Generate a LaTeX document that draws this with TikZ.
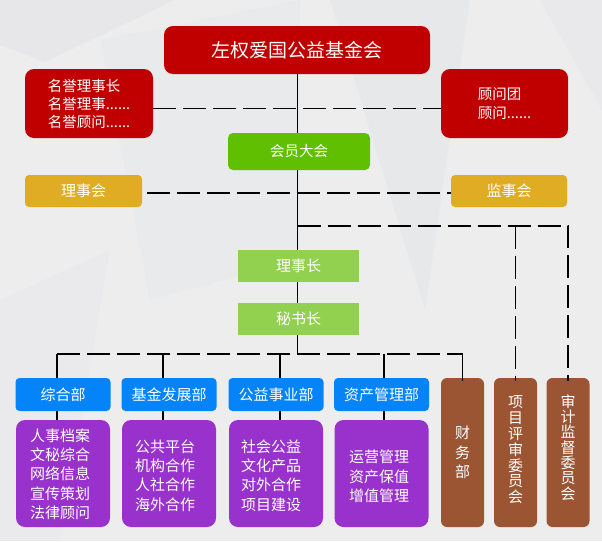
\documentclass[tikz,border=0pt]{standalone}
\usepackage{fontspec}
\setmainfont{Noto Sans CJK SC}
\definecolor{bg}{HTML}{EDEDEE}
\definecolor{bgdark}{HTML}{E3E4E8}
\definecolor{cred}{HTML}{C00000}
\definecolor{cgreen}{HTML}{60C000}
\definecolor{cgold}{HTML}{E0AC24}
\definecolor{clgreen}{HTML}{92D050}
\definecolor{cblue}{HTML}{0584FA}
\definecolor{cpurple}{HTML}{9932CC}
\definecolor{cbrown}{HTML}{9C5532}
\begin{document}
\begin{tikzpicture}[x=1pt,y=-1pt,
  box/.style={draw=none, text=white, inner sep=0pt, align=center},
  txt/.style={text=white, inner sep=0pt, align=center},
  redbox/.style={box, fill=cred, rounded corners=9pt},
  bluebox/.style={box, fill=cblue, rounded corners=4pt, minimum width=95pt, minimum height=33pt, font=\fontsize{15}{18}\selectfont},
  purplebox/.style={box, fill=cpurple, rounded corners=9pt, minimum width=94pt, minimum height=107pt},
  purpletext/.style={txt, font=\fontsize{15}{19.3}\selectfont},
  brownbox/.style={box, fill=cbrown, rounded corners=6pt, minimum width=43pt, minimum height=149pt},
  sline/.style={draw=black, line width=1.8pt},
  dline/.style={draw=black, line width=1.8pt, dash pattern=on 23pt off 7pt}]
\fill[bg] (0,0) rectangle (602,541);
\useasboundingbox (0,0) rectangle (602,541);
% subtle background facets
\fill[bgdark, opacity=0.6] (0,0) -- (175,0) -- (45,62) -- (0,45) -- cycle;
\fill[bgdark, opacity=0.5] (330,0) -- (470,0) -- (425,310) -- cycle;
\fill[bgdark, opacity=0.3] (100,40) -- (300,0) -- (300,260) -- (150,300) -- cycle;
\fill[bgdark, opacity=0.4] (540,0) -- (602,0) -- (602,110) -- cycle;
\fill[bgdark, opacity=0.25] (0,300) -- (110,250) -- (60,541) -- (0,541) -- cycle;

% nodes
\node[redbox, minimum width=266pt, minimum height=48pt, font=\fontsize{19}{22}\selectfont] (title) at (297,50) {左权爱国公益基金会};
\node[redbox, minimum width=128pt, minimum height=69pt, align=left, font=\fontsize{14.5}{18}\selectfont] (hon) at (89,103.5) {名誉理事长\\名誉理事......\\名誉顾问......};
\node[redbox, minimum width=127pt, minimum height=69pt, align=left, font=\fontsize{14.5}{19}\selectfont] (adv) at (504.5,103.5) {顾问团\\顾问......};
\node[box, fill=cgreen, rounded corners=5pt, minimum width=142pt, minimum height=37pt, font=\fontsize{14.5}{18}\selectfont] (mem) at (299,151.5) {会员大会};
\node[box, fill=cgold, rounded corners=4pt, minimum width=117pt, minimum height=32pt, font=\fontsize{15}{18}\selectfont] (board) at (83.5,191) {理事会};
\node[box, fill=cgold, rounded corners=4pt, minimum width=116pt, minimum height=32pt, font=\fontsize{15}{18}\selectfont] (sup) at (509,191) {监事会};
\node[box, fill=clgreen, minimum width=121pt, minimum height=32pt, font=\fontsize{15}{18}\selectfont] (chair) at (298.5,266) {理事长};
\node[box, fill=clgreen, minimum width=121pt, minimum height=32pt, font=\fontsize{15}{18}\selectfont] (sec) at (298.5,319) {秘书长};

\node[bluebox] (d1) at (63,394.5) {综合部};
\node[bluebox] (d2) at (169,394.5) {基金发展部};
\node[bluebox] (d3) at (276,394.5) {公益事业部};
\node[bluebox] (d4) at (381.5,394.5) {资产管理部};

\node[purplebox] (p1) at (63,473.5) {};
\node[purplebox] (p2) at (169,473.5) {};
\node[purplebox] (p3) at (276,473.5) {};
\node[purplebox] (p4) at (381.5,473.5) {};
\node[purpletext] (p1t) at (60,474) {人事档案\\文秘综合\\网络信息\\宣传策划\\法律顾问};
\node[purpletext] (p2t) at (165,475.5) {公共平台\\机构合作\\人社合作\\海外合作};
\node[purpletext] (p3t) at (271,475.5) {社会公益\\文化产品\\对外合作\\项目建设};
\node[purpletext] (p4t) at (379,476.5) {运营管理\\资产保值\\增值管理};

\node[brownbox] (f1) at (462.5,452.5) {};
\node[brownbox] (f2) at (515.5,452.5) {};
\node[brownbox] (f3) at (568,452.5) {};
\node[txt, font=\fontsize{15}{19.5}\selectfont] (f1t) at (462.5,452.5) {财\\务\\部};
\node[txt, font=\fontsize{15}{15.8}\selectfont] (f2t) at (515.5,450) {项\\目\\评\\审\\委\\员\\会};
\node[txt, font=\fontsize{15}{15.3}\selectfont] (f3t) at (568,447.5) {审\\计\\监\\督\\委\\员\\会};

% connectors
\coordinate (sp) at (297.5,0);
\coordinate (br) at (297.5,225.7);
\coordinate (b1) at (57,354);
\coordinate (b2) at (163,354);
\coordinate (b3) at (280,354);
\coordinate (b4) at (384,354);

\draw[sline] (sp |- title.south) -- (sp |- mem.north);
\draw[sline] (sp |- mem.south) -- (sp |- chair.north);
\draw[dline] (sp |- chair.south) -- (sp |- sec.north);
\draw[sline] (sp |- sec.south) -- (sp |- b1);

\draw[dline] ([yshift=-5pt]hon.east) -- ([yshift=-5pt]adv.west);
\draw[dline, shorten <=5pt] ([yshift=-2pt]board.east) -- ([yshift=-2pt]sup.west);

\draw[dline] (br) -- (br -| f3) -- ([yshift=-3pt]f3.north);
\draw[dline] (br -| f2) -- ([yshift=-3pt]f2.north);

\draw[dline] (b1) -- (b1 -| f1);
\draw[sline] (b1 -| f1) -- ([yshift=-3pt]f1.north);
\draw[sline] (b1) -- (b1 |- d1.north);
\draw[sline] (b2) -- (b2 |- d2.north);
\draw[sline] (b3) -- (b3 |- d3.north);
\draw[sline] (b4) -- (b4 |- d4.north);

\draw[sline] (b1 |- d1.south) -- (b1 |- p1.north);
\draw[sline] (b2 |- d2.south) -- (b2 |- p2.north);
\draw[sline] (b3 |- d3.south) -- (b3 |- p3.north);
\draw[sline] (b4 |- d4.south) -- (b4 |- p4.north);
\end{tikzpicture}
\end{document}
